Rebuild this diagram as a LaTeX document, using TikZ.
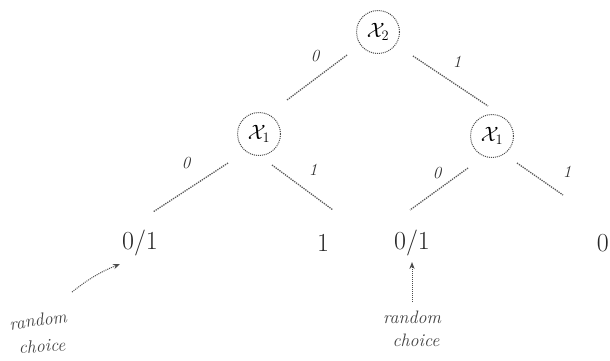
\documentclass[tikz,border=0pt]{standalone}
\usetikzlibrary{arrows.meta}
\begin{document}
\begin{tikzpicture}[x=1pt,y=-1pt,
  var/.style={draw=black!70,densely dotted,line width=1pt,circle,minimum size=43pt,inner sep=0pt,font=\fontsize{22}{24}\selectfont},
  edge/.style={draw=black!65,densely dotted,line width=1.3pt},
  elabel/.style={font=\fontsize{17}{19}\selectfont\itshape,text=black!80},
  leaf/.style={font=\fontsize{26}{28}\selectfont,text=black!85},
  note/.style={font=\fontsize{18}{20}\selectfont\itshape,text=black!75,inner sep=0pt},
  notearrow/.style={draw=black!70,densely dotted,line width=1pt,-{Stealth[length=7pt]}}]
\useasboundingbox (0,0) rectangle (610,360);
% variable nodes
\node[var] (r) at (378,32) {$\mathcal{X}_2$};
\node[var] (a) at (259,134) {$\mathcal{X}_1$};
\node[var] (b) at (492,136) {$\mathcal{X}_1$};
% leaves
\node[leaf] (l1) at (140,243) {0/1};
\node[leaf] (l2) at (323,243) {1};
\node[leaf] (l3) at (412,243) {0/1};
\node[leaf,anchor=east,inner xsep=1pt] (l4) at (610,243) {0};
% edge endpoints
\coordinate (ra1) at (347,55); \coordinate (ra2) at (287,100);
\coordinate (rb1) at (413,56); \coordinate (rb2) at (488,106);
\coordinate (al1) at (228,163); \coordinate (al2) at (153,212);
\coordinate (ar1) at (272,165); \coordinate (ar2) at (333,210);
\coordinate (bl1) at (468,168); \coordinate (bl2) at (410,210);
\coordinate (br1) at (517,163); \coordinate (br2) at (563,195);
\draw[edge] (ra1) -- (ra2);
\draw[edge] (rb1) -- (rb2);
\draw[edge] (al1) -- (al2);
\draw[edge] (ar1) -- (ar2);
\draw[edge] (bl1) -- (bl2);
\draw[edge] (br1) -- (br2);
% edge labels
\node[elabel] (e1) at (315,56) {0};
\node[elabel] (e2) at (457,62) {1};
\node[elabel] (e3) at (186,163) {0};
\node[elabel] (e4) at (313,170) {1};
\node[elabel] (e5) at (437,173) {0};
\node[elabel] (e6) at (567,172) {1};
% annotations
\node[note,rotate=8] (n1) at (38,320) {random};
\node[note,rotate=4] (n2) at (42,346) {choice};
\coordinate (n1a) at (72,292);
\coordinate (n1b) at (120,264);
\draw[notearrow] (n1a) to[bend left=8] (n1b);
\node[note] (n3) at (412,317) {random};
\node[note] (n4) at (416,340) {choice};
\coordinate (n3a) at (412,302);
\coordinate (n3b) at (412,262);
\draw[notearrow] (n3a) -- (n3b);
\end{tikzpicture}
\end{document}
